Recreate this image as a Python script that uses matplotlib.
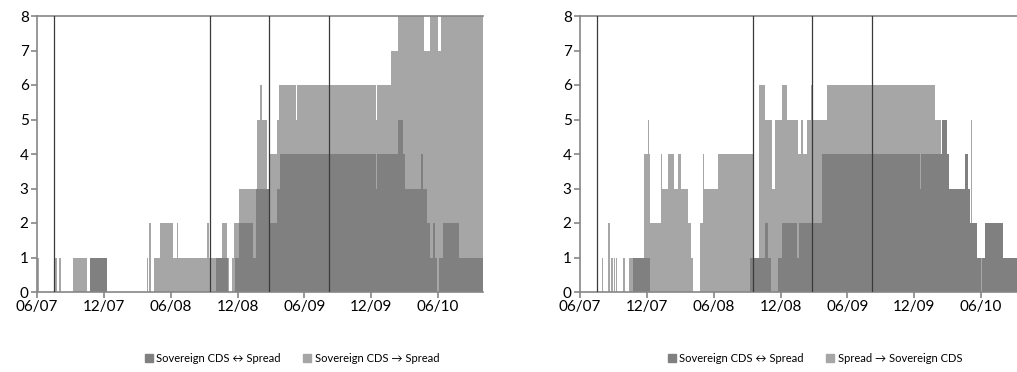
import matplotlib
matplotlib.use("Agg")
import matplotlib.pyplot as plt
import matplotlib.dates as mdates
from matplotlib.patches import Patch
import pandas as pd
import numpy as np

plt.rcParams['font.family'] = ['Lato', 'DejaVu Sans']

DARK = '#808080'
LIGHT = '#a6a6a6'
AXC = '#868686'

x_start = "2007-06-01"
x_end = "2010-10-02"
event_dates = ["2007-07-17", "2008-09-16", "2009-02-24", "2009-08-07"]
tick_dates = ["2007-06-01", "2007-12-01", "2008-06-01", "2008-12-01",
              "2009-06-01", "2009-12-01", "2010-06-01"]
tick_labels = ["06/07", "12/07", "06/08", "12/08", "06/09", "12/09", "06/10"]

# Left panel: Sovereign CDS <-> Spread (dark) and Sovereign CDS -> Spread (light)
left_bi_dates = ["2007-06-01", "2007-10-24", "2007-12-09", "2008-10-02", "2008-11-04",
                 "2008-11-23", "2008-12-04", "2009-01-11", "2009-01-20", "2009-02-27",
                 "2009-03-18", "2009-03-26", "2009-12-14", "2009-12-16", "2010-02-12",
                 "2010-02-25", "2010-03-03", "2010-04-15", "2010-04-21", "2010-05-02",
                 "2010-05-10", "2010-05-18", "2010-05-24", "2010-05-29", "2010-06-04",
                 "2010-06-15", "2010-07-28"]
left_bi_vals = [0, 1, 0, 1, 0,
                1, 2, 1, 3, 2,
                3, 4, 3, 4, 5,
                4, 3, 4, 3, 2,
                1, 2, 1, 0, 1,
                2, 1]

left_uni_dates = ["2007-06-01", "2007-06-06", "2007-07-20", "2007-07-26", "2007-07-31",
                  "2007-08-06", "2007-09-07", "2007-10-16", "2007-10-24", "2007-12-09",
                  "2008-03-28", "2008-03-30", "2008-04-02", "2008-04-08", "2008-04-16",
                  "2008-05-02", "2008-06-07", "2008-06-18", "2008-06-20", "2008-09-08",
                  "2008-09-13", "2008-10-19", "2008-11-01", "2008-11-07", "2008-11-15",
                  "2008-11-20", "2008-12-04", "2009-01-22", "2009-01-30", "2009-02-05",
                  "2009-02-19", "2009-02-27", "2009-03-18", "2009-03-23", "2009-05-09",
                  "2009-05-12", "2009-12-14", "2009-12-16", "2010-01-24", "2010-02-12",
                  "2010-04-24", "2010-05-10", "2010-06-01", "2010-06-09"]
left_uni_vals = [1, 0, 1, 0, 1,
                 0, 1, 0, 1, 0,
                 1, 0, 2, 0, 1,
                 2, 1, 2, 1, 2,
                 1, 2, 1, 0, 1,
                 2, 3, 5, 6, 5,
                 3, 4, 5, 6, 5,
                 6, 5, 6, 7, 8,
                 7, 8, 7, 8]

# Right panel: Sovereign CDS <-> Spread (dark) and Spread -> Sovereign CDS (light)
right_bi_dates = ["2007-06-01", "2007-10-25", "2007-12-09", "2008-09-08", "2008-10-19",
                  "2008-10-26", "2008-11-04", "2008-11-23", "2008-12-03", "2009-01-13",
                  "2009-01-20", "2009-03-23", "2009-12-16", "2009-12-18", "2010-02-14",
                  "2010-03-01", "2010-03-05", "2010-04-18", "2010-04-27", "2010-05-02",
                  "2010-05-20", "2010-06-01", "2010-06-04", "2010-06-12", "2010-08-01"]
right_bi_vals = [0, 1, 0, 1, 2,
                 1, 0, 1, 2, 1,
                 2, 4, 3, 4, 5,
                 4, 3, 4, 3, 2,
                 1, 0, 1, 2, 1]

right_uni_dates = ["2007-06-01", "2007-07-31", "2007-08-03", "2007-08-17", "2007-08-22",
                   "2007-08-26", "2007-08-29", "2007-09-02", "2007-09-05", "2007-09-07",
                   "2007-09-10", "2007-09-27", "2007-10-02", "2007-10-13", "2007-11-23",
                   "2007-12-04", "2007-12-07", "2007-12-09", "2008-01-08", "2008-01-11",
                   "2008-01-28", "2008-02-13", "2008-02-24", "2008-03-03", "2008-03-22",
                   "2008-03-30", "2008-04-05", "2008-04-24", "2008-05-02", "2008-05-05",
                   "2008-06-12", "2008-09-16", "2008-10-02", "2008-10-19", "2008-11-07",
                   "2008-11-15", "2008-12-04", "2008-12-18", "2009-01-17", "2009-01-25",
                   "2009-01-30", "2009-02-10", "2009-02-21", "2009-02-24", "2009-04-06",
                   "2010-01-26", "2010-02-12", "2010-05-05", "2010-05-07"]
right_uni_vals = [0, 1, 0, 2, 0,
                  1, 0, 1, 0, 1,
                  0, 1, 0, 1, 4,
                  5, 4, 2, 4, 3,
                  4, 3, 4, 3, 2,
                  1, 0, 2, 4, 3,
                  4, 1, 6, 5, 3,
                  5, 6, 5, 4, 5,
                  4, 5, 6, 5, 6,
                  5, 1, 5, 1]


def step_area(ax, dates, vals, color):
    d = list(pd.to_datetime(dates)) + [pd.Timestamp(x_end)]
    v = list(vals) + [vals[-1]]
    ax.fill_between(d, 0, v, step='post', color=color, linewidth=0, zorder=2)


def style(ax):
    ax.set_xlim(pd.Timestamp(x_start), pd.Timestamp(x_end))
    ax.set_ylim(0, 8)
    ax.set_yticks(range(0, 9))
    ax.set_xticks(pd.to_datetime(tick_dates))
    ax.set_xticklabels(tick_labels)
    for s in ['left', 'bottom', 'top']:
        ax.spines[s].set_color(AXC)
        ax.spines[s].set_linewidth(1.2)
    ax.spines['right'].set_visible(False)
    ax.tick_params(axis='both', direction='out', length=4, width=1.2, color=AXC,
                   labelsize=11, labelcolor='black', pad=2)
    ax.tick_params(axis='x', pad=1.5)
    for ed in event_dates:
        ax.axvline(pd.Timestamp(ed), color='#3a3a3a', lw=0.9, zorder=4)


fig = plt.figure(figsize=(10.17, 3.72), dpi=100)
axL = fig.add_axes([37 / 1017, 80 / 372, 446 / 1017, 276 / 372])
axR = fig.add_axes([580 / 1017, 80 / 372, 446 / 1017, 276 / 372])

step_area(axL, left_uni_dates, left_uni_vals, LIGHT)
step_area(axL, left_bi_dates, left_bi_vals, DARK)
step_area(axR, right_uni_dates, right_uni_vals, LIGHT)
step_area(axR, right_bi_dates, right_bi_vals, DARK)
style(axL)
style(axR)

leg_kw = dict(ncol=2, frameon=False, fontsize=8, handlelength=0.75, handleheight=0.75,
              handletextpad=0.3, columnspacing=2.0, loc='center')
fig.legend([Patch(color=DARK), Patch(color=LIGHT)],
           ["Sovereign CDS \u2194 Spread", "Sovereign CDS \u2192 Spread"],
           bbox_to_anchor=(292 / 1017, 14 / 372), **leg_kw)
fig.legend([Patch(color=DARK), Patch(color=LIGHT)],
           ["Sovereign CDS \u2194 Spread", "Spread \u2192 Sovereign CDS"],
           bbox_to_anchor=(815 / 1017, 14 / 372), **leg_kw)

fig.savefig("out.png", dpi=100)
